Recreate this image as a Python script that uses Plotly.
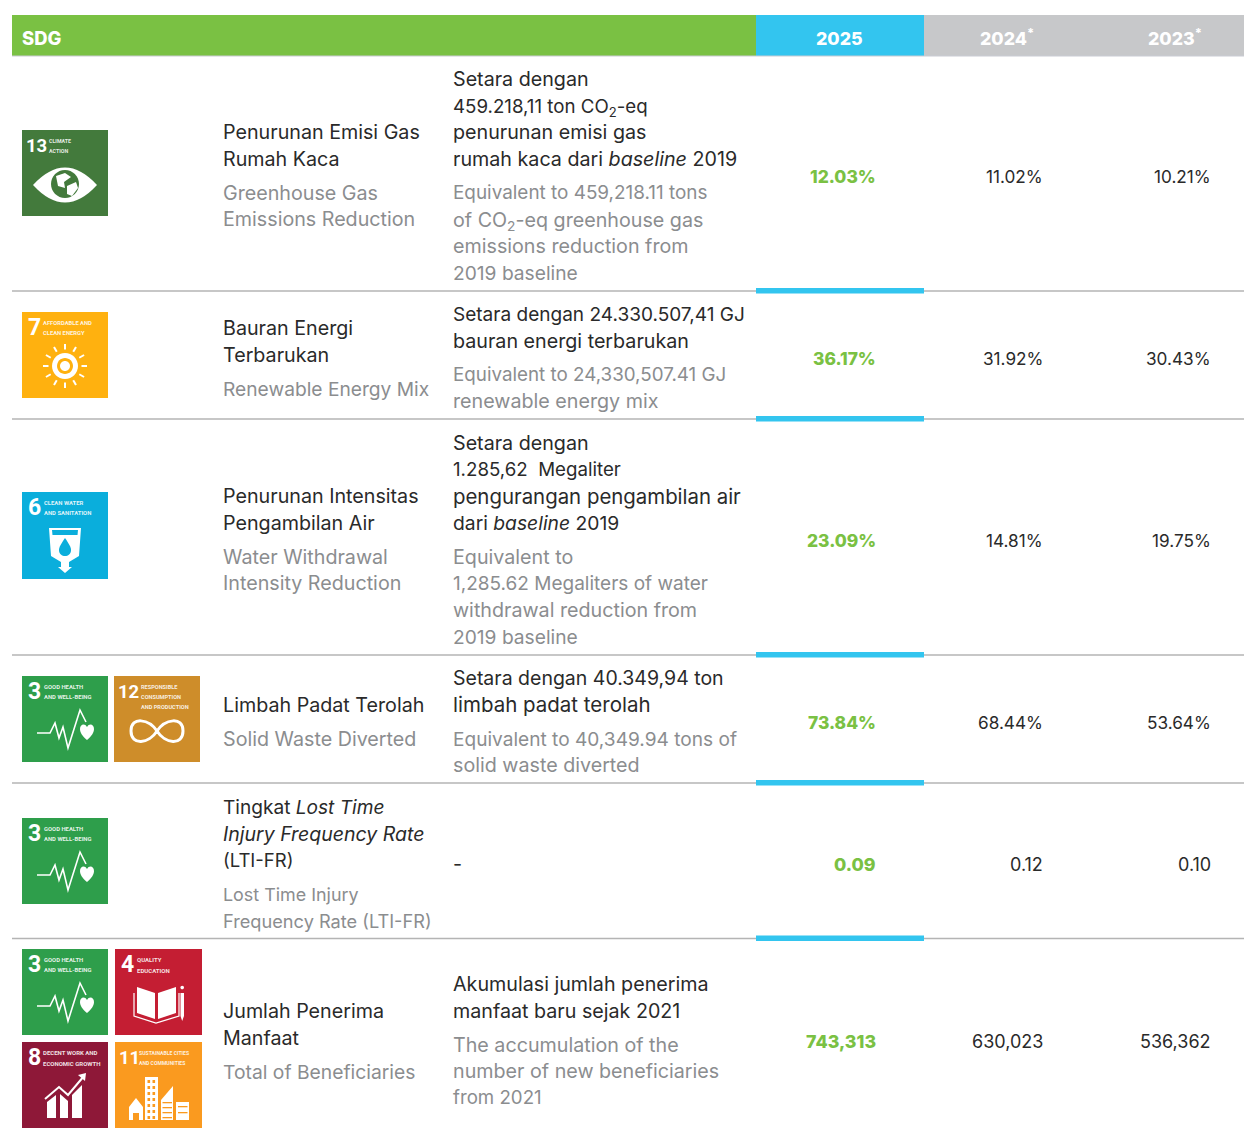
import re
import math
import plotly.graph_objects as go

# ---------- data ----------
HEADER_LEFT = "SDG"
YEARS = ["2025", "2024<sup>*</sup>", "2023<sup>*</sup>"]
INDICATOR_ID = [
    ["Penurunan Emisi Gas", "Rumah Kaca"],
    ["Bauran Energi", "Terbarukan"],
    ["Penurunan Intensitas", "Pengambilan Air"],
    ["Limbah Padat Terolah"],
    ["Tingkat <i>Lost Time</i>", "<i>Injury Frequency Rate</i>", "(LTI-FR)"],
    ["Jumlah Penerima", "Manfaat"],
]
INDICATOR_EN = [
    ["Greenhouse Gas", "Emissions Reduction"],
    ["Renewable Energy Mix"],
    ["Water Withdrawal", "Intensity Reduction"],
    ["Solid Waste Diverted"],
    ["Lost Time Injury", "Frequency Rate (LTI-FR)"],
    ["Total of Beneficiaries"],
]
DESC_ID = [
    ["Setara dengan", "459.218,11 ton CO<sub>2</sub>-eq", "penurunan emisi gas", "rumah kaca dari <i>baseline</i> 2019"],
    ["Setara dengan 24.330.507,41 GJ", "bauran energi terbarukan"],
    ["Setara dengan", "1.285,62  Megaliter", "pengurangan pengambilan air", "dari <i>baseline</i> 2019"],
    ["Setara dengan 40.349,94 ton", "limbah padat terolah"],
    ["-"],
    ["Akumulasi jumlah penerima", "manfaat baru sejak 2021"],
]
DESC_EN = [
    ["Equivalent to 459,218.11 tons", "of CO<sub>2</sub>-eq greenhouse gas", "emissions reduction from", "2019 baseline"],
    ["Equivalent to 24,330,507.41 GJ", "renewable energy mix"],
    ["Equivalent to", "1,285.62 Megaliters of water", "withdrawal reduction from", "2019 baseline"],
    ["Equivalent to 40,349.94 tons of", "solid waste diverted"],
    [],
    ["The accumulation of the", "number of new beneficiaries", "from 2021"],
]
VALUES_2025 = ["12.03%", "36.17%", "23.09%", "73.84%", "0.09", "743,313"]
VALUES_2024 = ["11.02%", "31.92%", "14.81%", "68.44%", "0.12", "630,023"]
VALUES_2023 = ["10.21%", "30.43%", "19.75%", "53.64%", "0.10", "536,362"]
SDG_GOALS = [[13], [7], [6], [3, 12], [3], [3, 4, 8, 11]]
GOAL_LABELS = {
    13: ["CLIMATE", "ACTION"],
    7: ["AFFORDABLE AND", "CLEAN ENERGY"],
    6: ["CLEAN WATER", "AND SANITATION"],
    3: ["GOOD HEALTH", "AND WELL-BEING"],
    12: ["RESPONSIBLE", "CONSUMPTION", "AND PRODUCTION"],
    4: ["QUALITY", "EDUCATION"],
    8: ["DECENT WORK AND", "ECONOMIC GROWTH"],
    11: ["SUSTAINABLE CITIES", "AND COMMUNITIES"],
}

# ---------- layout & style ----------
W, H = 1244, 1129
FONT = "Inter"
ICON_FONT = "Roboto"
INK, GREY = "#2a2a2a", "#8b8d8f"
GREEN, BLUE, HGREY = "#7AC143", "#33C5EF", "#C7C8CA"
RULE = "#B4B4B4"
GOAL_COLOR = {13: "#437A3C", 7: "#FFB10F", 6: "#0AAEDC", 3: "#2E9E4B",
              12: "#CE8D2A", 4: "#C41E33", 8: "#8E1838", 11: "#FA9A1F"}
RULES_Y = [291, 419, 655, 783, 938.5]
ROW_VALUE_Y = [176, 358, 540, 722, 864, 1041]
IND_START_Y = [132, 328, 496, 705, 807, 1011]
DESC_START_Y = [79, 314, 443, 678, 864, 984]
PITCH, GAP = 26.6, 34
FS = 19.7
# Inter and the reference typeface differ most on digits and capitals
LINE_SIZE = {
    "459.218,11 ton CO<sub>2</sub>-eq": 18.7,
    "Equivalent to 459,218.11 tons": 18.9,
    "Setara dengan 24.330.507,41 GJ": 19.05,
    "Equivalent to 24,330,507.41 GJ": 18.8,
    "1.285,62  Megaliter": 18.7,
    "1,285.62 Megaliters of water": 19.0,
    "dari <i>baseline</i> 2019": 19.3,
    "2019 baseline": 19.2,
    "Renewable Energy Mix": 19.2,
    "Setara dengan 40.349,94 ton": 19.5,
    "Equivalent to 40,349.94 tons of": 19.1,
    "Tingkat <i>Lost Time</i>": 19.1,
    "<i>Injury Frequency Rate</i>": 19.5,
    "(LTI-FR)": 18.5,
    "Lost Time Injury": 17.9,
    "Frequency Rate (LTI-FR)": 18.2,
    "from 2021": 18.7,
    "Total of Beneficiaries": 19.3,
    "limbah padat terolah": 20.5,
    "pengurangan pengambilan air": 20.4,
}
# goal: (label size, label x offset, label y offsets)
LABEL_STYLE = {
    13: (5.3, 27, [10.7, 21]),
    7: (5.8, 21, [10.7, 21.3]),
    6: (5.9, 22, [10.7, 21.3]),
    3: (5.9, 22, [10.7, 21.3]),
    12: (5.6, 27, [10.7, 20.7, 31.3]),
    4: (6.0, 22, [10.7, 21.3]),
    8: (6.0, 21, [10.7, 21.3]),
    11: (5.1, 24, [10.7, 21.3]),
}
# x, y, width, height
ICON_POS = {
    0: [(22, 130, 86, 86)], 1: [(22, 312, 86, 86)], 2: [(22, 492, 86, 87)],
    3: [(22, 676, 86, 86), (114, 676, 86, 86)], 4: [(22, 818, 86, 86)],
    5: [(22, 949, 86, 86), (115, 949, 87, 86), (22, 1042, 86, 86), (115, 1042, 87, 86)],
}

shapes, annots = [], []


def rect(x0, y0, x1, y1, color):
    shapes.append(dict(type="rect", xref="x", yref="y", x0=x0, y0=y0, x1=x1, y1=y1,
                       fillcolor=color, line=dict(width=0), layer="above"))


def text(x, y, s, size=FS, color=INK, anchor="left", family=FONT, weight=None, yshift=0):
    f = dict(family=family, size=size, color=color)
    if weight:
        f["weight"] = weight
    annots.append(dict(x=x, y=y, xref="x", yref="y", text=s, showarrow=False,
                       xanchor=anchor, yanchor="middle", align=anchor, font=f,
                       borderpad=0, borderwidth=0, yshift=yshift))


def body_line(x, y, s, color=INK):
    # a subscript makes the text box taller, which pulls the line upward
    text(x, y, s, size=LINE_SIZE.get(s, FS), color=color, yshift=-2 if "<sub>" in s else 0)


def path(ox, oy, d, fill=None, stroke=None, width=0.0):
    def pair(m):
        return f"{ox + float(m.group(1)):.2f},{oy + float(m.group(2)):.2f}"
    dd = re.sub(r"(-?[\d.]+)[ ,](-?[\d.]+)", pair, d)
    shapes.append(dict(type="path", xref="x", yref="y", path=dd,
                       fillcolor=fill if fill else "rgba(0,0,0,0)",
                       line=dict(color=stroke if stroke else "rgba(0,0,0,0)", width=width),
                       layer="above"))


def circle_d(cx, cy, r):
    k = 0.5523 * r
    return (f"M{cx - r} {cy} C{cx - r} {cy - k} {cx - k} {cy - r} {cx} {cy - r} "
            f"C{cx + k} {cy - r} {cx + r} {cy - k} {cx + r} {cy} "
            f"C{cx + r} {cy + k} {cx + k} {cy + r} {cx} {cy + r} "
            f"C{cx - k} {cy + r} {cx - r} {cy + k} {cx - r} {cy} Z")


def glyph(goal, x, y):
    c = GOAL_COLOR[goal]
    w = "#FFFFFF"
    if goal == 13:
        path(x, y, "M11 55 Q43 20 75 55 Q43 90 11 55 Z", fill=w)
        path(x, y, circle_d(43, 54, 14), fill=c)
        path(x, y, "M34 46 L43 43 L49 47 L42 52 L43 58 L36 56 Z", fill=w)
        path(x, y, "M45 56 L54 52 L56 58 L50 66 L45 64 Z", fill=w)
    elif goal == 7:
        path(x, y, circle_d(43, 54, 13), fill=w)
        path(x, y, circle_d(43, 54, 8), fill=c)
        path(x, y, circle_d(43, 54, 5), fill=w)
        for i in range(12):
            a = math.radians(i * 30)
            x0, y0 = 43 + 16.5 * math.cos(a), 54 + 16.5 * math.sin(a)
            x1, y1 = 43 + 22 * math.cos(a), 54 + 22 * math.sin(a)
            path(x, y, f"M{x0:.2f} {y0:.2f} L{x1:.2f} {y1:.2f}", stroke=w, width=2)
    elif goal == 6:
        path(x, y, "M27 36 L59 36 L57 64 L47 70 L47 75 L50 75 L43 81 L36 75 L39 75 L39 70 L29 64 Z", fill=w)
        path(x, y, "M30 38 L56 38 L55.5 43 L30.5 43 Z", fill=c)
        path(x, y, "M43 46 C47 52 49 55 49 58 C49 66 37 66 37 58 C37 55 39 52 43 46 Z", fill=c)
    elif goal == 3:
        path(x, y, "M15 57 L28 57 L33 47 L37 62 L41 51 L46 72 L58 34 L64 46",
             stroke=w, width=1.6)
        path(x, y, "M65 64 C60 60 58 56 58 53 C58 48 63 47 65 51 C67 47 72 48 72 53 C72 56 70 60 65 64 Z",
             fill=w)
    elif goal == 12:
        path(x, y, "M43 55 C35 43 17 40 17 55 C17 70 35 68 43 55 C51 43 69 40 69 55 C69 70 51 68 43 55 Z",
             stroke=w, width=3)
    elif goal == 4:
        path(x, y, "M22 38 L40 44 L40 70 L22 64 Z", fill=w)
        path(x, y, "M61 38 L43 44 L43 70 L61 64 Z", fill=w)
        path(x, y, "M19 44 L19 67 L41 74 L64 67 L64 44", stroke=w, width=1.2)
        path(x, y, "M65.5 44 L69 44 L69 67 L67.2 72 L65.5 67 Z", fill=w)
        path(x, y, circle_d(67.2, 38.5, 1.8), fill=w)
    elif goal == 8:
        path(x, y, "M25 76 L25 60 L34 53 L34 76 Z", fill=w)
        path(x, y, "M38 76 L38 52 L46 59 L46 76 Z", fill=w)
        path(x, y, "M50 76 L50 53 L60 43 L60 76 Z", fill=w)
        path(x, y, "M23 57 L37 45 L46 53 L62 34", stroke=w, width=2)
        path(x, y, "M56 33 L64 31 L63 39 Z", fill=w)
    elif goal == 11:
        path(x, y, "M14 78 L14 65 L21 56 L28 65 L28 78 L24 78 L24 71 L18 71 L18 78 Z", fill=w)
        path(x, y, "M30 35 L43 35 L43 78 L30 78 Z", fill=w)
        path(x, y, "M46 78 L46 58 L58 44 L58 78 Z", fill=w)
        path(x, y, "M61 60 L74 60 L74 78 L61 78 Z", fill=w)
        for wy in range(38, 76, 6):
            for wx in (32.5, 37.5):
                rect(x + wx, y + wy, x + wx + 2.6, y + wy + 3, c)
        for wy in range(60, 76, 5):
            rect(x + 47.5, y + wy, x + 57, y + wy + 1.3, c)
        for wy in (64, 70):
            rect(x + 63, y + wy, x + 72.5, y + wy + 1.3, c)


def icon(goal, x, y, w, h):
    rect(x, y, x + w, y + h, GOAL_COLOR[goal])
    num = str(goal)
    two = goal >= 10
    text(x + (3.5 if two else 5.5), y + 15.5, num, size=18.5 if two else 23,
         color="#FFFFFF", family=ICON_FONT, weight=700)
    size, lx, ys = LABEL_STYLE[goal]
    for ln, dy in zip(GOAL_LABELS[goal], ys):
        text(x + lx, y + dy, ln, size=size, color="rgba(255,255,255,0.88)",
             family=ICON_FONT, weight=700)
    glyph(goal, x, y)


# header
rect(12, 15, 756, 56, GREEN)
rect(756, 15, 924, 56, BLUE)
rect(924, 15, 1244, 56, HGREY)
rect(12, 55.5, 1244, 56.5, "#C9CBD3")
text(22, 38, HEADER_LEFT, size=18.4, color="#FFFFFF", weight=800)
for yr, cx in zip(YEARS, [839, 1007, 1175]):
    text(cx, 38, yr, size=17.8, color="#FFFFFF", anchor="center", weight=800,
         yshift=1 if "<sup>" in yr else 0)

# rules and blue accents
for ry in RULES_Y:
    rect(12, ry - 0.75, 1244, ry + 0.75, RULE)
    rect(756, ry - 3, 924, ry + 2.5, BLUE)


def value_size(v):
    return 17.2 if v.endswith("%") else 18


# rows
for i in range(len(INDICATOR_ID)):
    y = IND_START_Y[i]
    for ln in INDICATOR_ID[i]:
        body_line(222.5, y, ln)
        y += PITCH
    y += GAP - PITCH
    for ln in INDICATOR_EN[i]:
        body_line(222.5, y, ln, color=GREY)
        y += PITCH
    y = DESC_START_Y[i]
    for ln in DESC_ID[i]:
        body_line(453, y, ln)
        y += PITCH
    y += GAP - PITCH
    for ln in DESC_EN[i]:
        body_line(453, y, ln, color=GREY)
        y += PITCH
    vy = ROW_VALUE_Y[i]
    v25 = VALUES_2025[i]
    text(875.5, vy, v25, size=17.4 if v25.endswith("%") else 17.8, color=GREEN, anchor="right", weight=800)
    text(1043, vy, VALUES_2024[i], anchor="right", size=value_size(VALUES_2024[i]))
    text(1210.5, vy, VALUES_2023[i], anchor="right", size=value_size(VALUES_2023[i]))
    for goal, (ix, iy, iw, ih) in zip(SDG_GOALS[i], ICON_POS[i]):
        icon(goal, ix, iy, iw, ih)

fig = go.Figure()
fig.update_layout(
    width=W, height=H, margin=dict(l=0, r=0, t=0, b=0, pad=0),
    paper_bgcolor="#FFFFFF", plot_bgcolor="#FFFFFF",
    xaxis=dict(range=[0, W], visible=False, fixedrange=True),
    yaxis=dict(range=[H, 0], visible=False, fixedrange=True),
    shapes=shapes, annotations=annots, showlegend=False,
)
fig.write_html("out.html", config=dict(displayModeBar=False),
               post_script="document.body.style.margin='0';document.body.style.overflow='hidden';")
